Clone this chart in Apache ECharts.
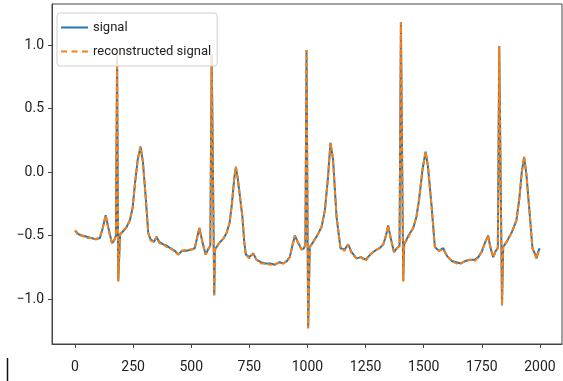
<!DOCTYPE html>
<html>
<head>
<meta charset="utf-8">
<script src="https://cdn.jsdelivr.net/npm/echarts@6.0.0/dist/echarts.min.js"></script>
<style>
  html, body { margin: 0; padding: 0; background: #fff; }
  #chart { width: 563px; height: 381px; }
</style>
</head>
<body>
<div id="chart"></div>
<script>
// sample index of each point
const sampleIdx = [
  0, 15, 30, 50, 70, 90, 107, 118, 132, 145, 159, 168, 176, 181, 186, 194,
  205, 220, 236, 248, 258, 270, 282, 292, 305, 315, 325, 340, 351, 362, 380,
  394, 410, 430, 444, 460, 480, 502, 515, 525, 535, 548, 562, 575, 582, 588,
  599, 602, 620, 640, 652, 665, 675, 685, 692, 700, 710, 720, 728, 735, 750,
  767, 780, 800, 817, 840, 860, 880, 896, 912, 924, 935, 946, 958, 975, 985,
  991, 996, 1003, 1010, 1025, 1045, 1061, 1075, 1088, 1099, 1110, 1120, 1125,
  1142, 1160, 1175, 1190, 1211, 1230, 1250, 1270, 1290, 1310, 1326, 1338,
  1347, 1358, 1372, 1385, 1396, 1402, 1412, 1416, 1435, 1455, 1469, 1480,
  1495, 1508, 1518, 1528, 1534, 1548, 1565, 1584, 1600, 1620, 1641, 1660,
  1680, 1699, 1720, 1735, 1749, 1763, 1777, 1788, 1799, 1810, 1819, 1825,
  1837, 1842, 1860, 1880, 1899, 1912, 1922, 1932, 1942, 1950, 1957, 1968,
  1978, 1985, 1992, 1999
];

const signal = [
  -0.46, -0.49, -0.50, -0.51, -0.52, -0.53, -0.52, -0.45, -0.34, -0.45, -0.56,
  -0.54, -0.50, 0.92, -0.86, -0.49, -0.47, -0.44, -0.38, -0.28, -0.09, 0.10,
  0.20, 0.08, -0.22, -0.48, -0.53, -0.55, -0.51, -0.55, -0.57, -0.58, -0.60,
  -0.62, -0.65, -0.62, -0.62, -0.61, -0.60, -0.52, -0.44, -0.55, -0.65, -0.60,
  -0.58, 0.93, -0.97, -0.61, -0.56, -0.52, -0.48, -0.40, -0.25, -0.05, 0.04,
  -0.05, -0.20, -0.35, -0.55, -0.65, -0.67, -0.64, -0.69, -0.71, -0.72, -0.72,
  -0.73, -0.71, -0.72, -0.70, -0.67, -0.58, -0.50, -0.55, -0.61, -0.60, -0.57,
  0.96, -1.23, -0.59, -0.55, -0.49, -0.43, -0.30, -0.05, 0.23, 0.10, -0.20,
  -0.35, -0.60, -0.61, -0.57, -0.63, -0.68, -0.67, -0.69, -0.65, -0.62, -0.60,
  -0.57, -0.50, -0.42, -0.52, -0.63, -0.60, -0.58, 1.18, -0.86, -0.57, -0.50,
  -0.44, -0.35, -0.22, 0.02, 0.16, 0.05, -0.15, -0.27, -0.59, -0.62, -0.60,
  -0.66, -0.70, -0.71, -0.72, -0.70, -0.69, -0.69, -0.67, -0.63, -0.56, -0.50,
  -0.60, -0.67, -0.62, -0.60, 0.99, -1.05, -0.59, -0.54, -0.47, -0.38, -0.20,
  0.00, 0.12, -0.02, -0.20, -0.35, -0.60, -0.64, -0.68, -0.63, -0.60
];

// reconstruction sits on top of the signal almost everywhere
const reconstructed = [
  -0.46, -0.50, -0.50, -0.52, -0.52, -0.53, -0.51, -0.45, -0.34, -0.46, -0.56,
  -0.54, -0.50, 0.92, -0.86, -0.49, -0.46, -0.44, -0.38, -0.28, -0.09, 0.10,
  0.20, 0.08, -0.22, -0.48, -0.54, -0.55, -0.51, -0.56, -0.57, -0.59, -0.60,
  -0.63, -0.65, -0.62, -0.61, -0.61, -0.60, -0.52, -0.44, -0.55, -0.65, -0.60,
  -0.58, 0.93, -0.97, -0.61, -0.56, -0.52, -0.48, -0.40, -0.25, -0.05, 0.04,
  -0.05, -0.20, -0.35, -0.55, -0.65, -0.68, -0.64, -0.69, -0.72, -0.72, -0.73,
  -0.73, -0.71, -0.72, -0.70, -0.67, -0.58, -0.50, -0.55, -0.61, -0.60, -0.57,
  0.96, -1.23, -0.59, -0.55, -0.49, -0.43, -0.30, -0.05, 0.23, 0.10, -0.20,
  -0.35, -0.60, -0.62, -0.57, -0.64, -0.68, -0.67, -0.70, -0.65, -0.62, -0.60,
  -0.57, -0.50, -0.42, -0.52, -0.63, -0.60, -0.58, 1.18, -0.86, -0.57, -0.51,
  -0.44, -0.35, -0.22, 0.02, 0.16, 0.05, -0.15, -0.27, -0.59, -0.62, -0.61,
  -0.66, -0.70, -0.72, -0.72, -0.70, -0.69, -0.70, -0.67, -0.63, -0.56, -0.50,
  -0.60, -0.67, -0.62, -0.60, 0.99, -1.05, -0.59, -0.54, -0.47, -0.38, -0.20,
  0.00, 0.12, -0.02, -0.20, -0.35, -0.60, -0.65, -0.68, -0.64, -0.61
];

const xTicks = [0, 250, 500, 750, 1000, 1250, 1500, 1750, 2000];
const yTicks = [-1.0, -0.5, 0.0, 0.5, 1.0];

const FONT = "Roboto, sans-serif";

const chart = echarts.init(document.getElementById("chart"), null, { renderer: "canvas" });

const pairs = (ys) => sampleIdx.map((x, i) => [x, ys[i]]);

chart.setOption({
  animation: false,
  backgroundColor: "#fff",
  grid: { left: 52, right: 1, top: 4, bottom: 37, containLabel: false },
  legend: {
    left: 57,
    top: 13,
    orient: "vertical",
    itemWidth: 27,
    itemHeight: 12,
    itemGap: 11,
    padding: [8, 6, 8, 4],
    backgroundColor: "rgba(255,255,255,0.8)",
    borderColor: "#d0d0d0",
    borderWidth: 1,
    borderRadius: 3,
    textStyle: { fontFamily: FONT, fontSize: 13, color: "#222" },
    data: [
      { name: "signal", icon: "path://M0,0H27V2H0Z" },
      { name: "reconstructed signal", icon: "path://M0,0H6V2H0Z M10.5,0H16.5V2H10.5Z M21,0H27V2H21Z" }
    ]
  },
  xAxis: {
    type: "value",
    min: -99,
    max: 2095,
    splitLine: { show: false },
    axisLine: { show: true, onZero: false, lineStyle: { color: "#444", width: 1 } },
    axisTick: { show: true, customValues: xTicks, length: 4, lineStyle: { color: "#444" } },
    axisLabel: {
      customValues: xTicks,
      margin: 16,
      fontFamily: FONT,
      fontSize: 14,
      color: "#222",
      formatter: (v) => String(v)
    }
  },
  yAxis: {
    type: "value",
    min: -1.354,
    max: 1.323,
    splitLine: { show: false },
    axisLine: { show: true, onZero: false, lineStyle: { color: "#444", width: 1 } },
    axisTick: { show: true, customValues: yTicks, length: 4, lineStyle: { color: "#444" } },
    axisLabel: {
      customValues: yTicks,
      margin: 8,
      fontFamily: FONT,
      fontSize: 14,
      color: "#222",
      formatter: (v) => v.toFixed(1).replace("-", "\u2212")
    }
  },
  graphic: [
    // top and right frame lines of the axes box
    { type: "rect", shape: { x: 52, y: 4, width: 510, height: 340 }, style: { fill: "none", stroke: "#444", lineWidth: 1 }, silent: true, z: 100 },
    { type: "line", shape: { x1: 7.5, y1: 358, x2: 7.5, y2: 381 }, style: { stroke: "#111", lineWidth: 1.5 } }
  ],
  series: [
    {
      name: "signal",
      type: "line",
      symbol: "none",
      data: pairs(signal),
      color: "#1f77b4",
      lineStyle: { color: "#1f77b4", width: 2 },
      z: 2
    },
    {
      name: "reconstructed signal",
      type: "line",
      symbol: "none",
      data: pairs(reconstructed),
      color: "#ff7f0e",
      lineStyle: { color: "#ff7f0e", width: 2, type: [5, 2.5] },
      z: 3
    }
  ]
});
</script>
</body>
</html>
